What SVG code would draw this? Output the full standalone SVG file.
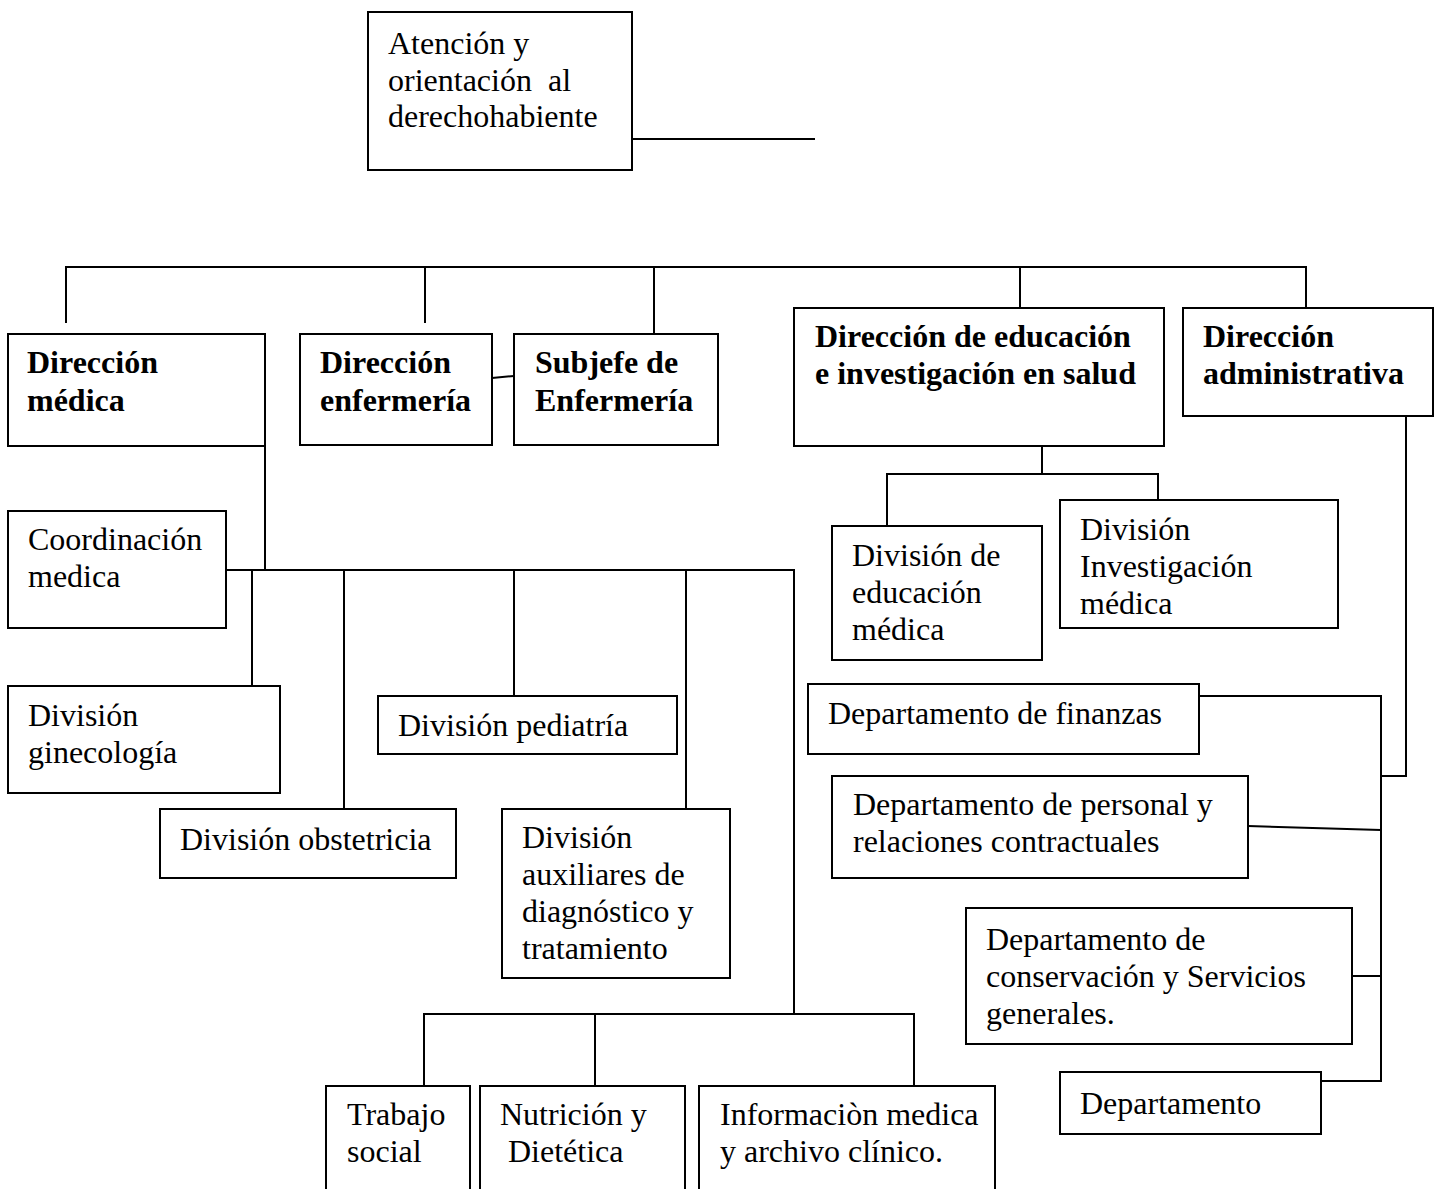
<svg xmlns="http://www.w3.org/2000/svg" width="1443" height="1189" viewBox="0 0 1443 1189">
  <style>
    .box { fill: #fff; stroke: #000; stroke-width: 2; }
    .ln { fill: none; stroke: #000; stroke-width: 2; }
    text { font-family: "Liberation Serif", "Times New Roman", serif; font-size: 32px; fill: #000; }
    .b { font-weight: bold; }
  </style>
  <rect width="1443" height="1189" fill="#fff"/>

  <!-- connectors -->
  <g id="connectors">
    <path class="ln" d="M632 139 H815"/>
    <path class="ln" d="M66 323 V267 H1306 V307 M425 267 V323 M654 267 V333 M1020 267 V307"/>
    <path class="ln" d="M492 378 L514 376"/>
    <path class="ln" d="M265 446 V570 M226 570 H794 V1014 M252 570 V686 M344 570 V809 M514 570 V696 M686 570 V809"/>
    <path class="ln" d="M424 1086 V1014 H914 V1086 M595 1014 V1086"/>
    <path class="ln" d="M1042 446 V474 M887 526 V474 H1158 V500"/>
    <path class="ln" d="M1406 416 V776 H1381 M1199 696 H1381 V1081 H1320 M1248 826 L1381 830 M1352 976 H1381"/>
  </g>

  <g id="n-atencion">
    <rect class="box" x="368" y="12" width="264" height="158"/>
    <text x="388" y="54">Atención y</text>
    <text x="388" y="91" xml:space="preserve">orientación  al</text>
    <text x="388" y="127">derechohabiente</text>
  </g>

  <g id="n-dir-medica">
    <rect class="box" x="8" y="334" width="257" height="112"/>
    <text class="b" x="27" y="373">Dirección</text>
    <text class="b" x="27" y="411">médica</text>
  </g>

  <g id="n-dir-enfermeria">
    <rect class="box" x="300" y="334" width="192" height="111"/>
    <text class="b" x="320" y="373">Dirección</text>
    <text class="b" x="320" y="411">enfermería</text>
  </g>

  <g id="n-subjefe">
    <rect class="box" x="514" y="334" width="204" height="111"/>
    <text class="b" x="535" y="373">Subjefe de</text>
    <text class="b" x="535" y="411">Enfermería</text>
  </g>

  <g id="n-dir-educacion">
    <rect class="box" x="794" y="308" width="370" height="138"/>
    <text class="b" x="815" y="347">Dirección de educación</text>
    <text class="b" x="815" y="384">e investigación en salud</text>
  </g>

  <g id="n-dir-administrativa">
    <rect class="box" x="1183" y="308" width="250" height="108"/>
    <text class="b" x="1203" y="347">Dirección</text>
    <text class="b" x="1203" y="384">administrativa</text>
  </g>

  <g id="n-coordinacion">
    <rect class="box" x="8" y="511" width="218" height="117"/>
    <text x="28" y="550">Coordinación</text>
    <text x="28" y="587">medica</text>
  </g>

  <g id="n-ginecologia">
    <rect class="box" x="8" y="686" width="272" height="107"/>
    <text x="28" y="726">División</text>
    <text x="28" y="763">ginecología</text>
  </g>

  <g id="n-pediatria">
    <rect class="box" x="378" y="696" width="299" height="58"/>
    <text x="398" y="736">División pediatría</text>
  </g>

  <g id="n-obstetricia">
    <rect class="box" x="160" y="809" width="296" height="69"/>
    <text x="180" y="850">División obstetricia</text>
  </g>

  <g id="n-auxiliares">
    <rect class="box" x="502" y="809" width="228" height="169"/>
    <text x="522" y="848">División</text>
    <text x="522" y="885">auxiliares de</text>
    <text x="522" y="922">diagnóstico y</text>
    <text x="522" y="959">tratamiento</text>
  </g>

  <g id="n-trabajo-social">
    <rect class="box" x="326" y="1086" width="144" height="120"/>
    <text x="347" y="1125">Trabajo</text>
    <text x="347" y="1162">social</text>
  </g>

  <g id="n-nutricion">
    <rect class="box" x="480" y="1086" width="205" height="120"/>
    <text x="500" y="1125">Nutrición y</text>
    <text x="500" y="1162" xml:space="preserve"> Dietética</text>
  </g>

  <g id="n-informacion">
    <rect class="box" x="699" y="1086" width="296" height="120"/>
    <text x="720" y="1125">Informaciòn medica</text>
    <text x="720" y="1162">y archivo clínico.</text>
  </g>

  <g id="n-div-educacion">
    <rect class="box" x="832" y="526" width="210" height="134"/>
    <text x="852" y="566">División de</text>
    <text x="852" y="603">educación</text>
    <text x="852" y="640">médica</text>
  </g>

  <g id="n-div-investigacion">
    <rect class="box" x="1060" y="500" width="278" height="128"/>
    <text x="1080" y="540">División</text>
    <text x="1080" y="577">Investigación</text>
    <text x="1080" y="614">médica</text>
  </g>

  <g id="n-finanzas">
    <rect class="box" x="808" y="684" width="391" height="70"/>
    <text x="828" y="724">Departamento de finanzas</text>
  </g>

  <g id="n-personal">
    <rect class="box" x="832" y="776" width="416" height="102"/>
    <text x="853" y="815">Departamento de personal y</text>
    <text x="853" y="852">relaciones contractuales</text>
  </g>

  <g id="n-conservacion">
    <rect class="box" x="966" y="908" width="386" height="136"/>
    <text x="986" y="950">Departamento de</text>
    <text x="986" y="987">conservación y Servicios</text>
    <text x="986" y="1024">generales.</text>
  </g>

  <g id="n-departamento">
    <rect class="box" x="1060" y="1072" width="261" height="62"/>
    <text x="1080" y="1114">Departamento</text>
  </g>
</svg>
